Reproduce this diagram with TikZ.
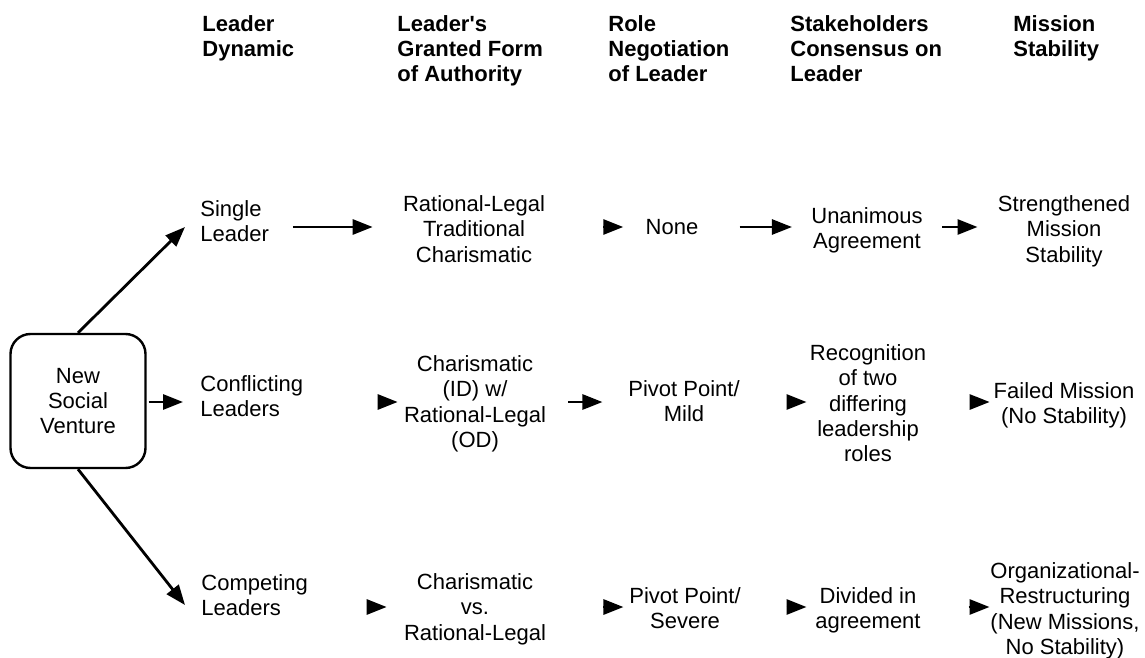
\documentclass[tikz,border=0pt]{standalone}
\usepackage{fontspec}
\setmainfont{Liberation Sans}
\usetikzlibrary{arrows.meta}

\begin{document}
\begin{tikzpicture}[x=0.5pt, y=-0.5pt,
		font=\fontsize{11}{12.7}\selectfont,
		lbl/.style={inner sep=0pt, align=center, anchor=north},
		lft/.style={inner sep=0pt, align=left, anchor=north west},
		hdr/.style={lft, font=\fontsize{11}{12.5}\selectfont\bfseries},
		arr/.style={line width=1.4pt, -{Triangle[length=10pt, width=7.5pt]}},
		trim/.style 2 args={shorten <=#1, shorten >=#2},
		venture/.style={draw, line width=1.2pt, rounded corners=10pt, minimum width=67.5pt,
			minimum height=67pt, align=center, inner sep=0pt}]
	\useasboundingbox (0,0) rectangle (1145,658);

	% column heads
	\node[hdr] (h1) at (202,15) {Leader\\Dynamic};
	\node[hdr] (h2) at (397,15) {Leader\textquotesingle s\\Granted Form\\of Authority};
	\node[hdr] (h3) at (608,15) {Role\\Negotiation\\of Leader};
	\node[hdr] (h4) at (790,15) {Stakeholders\\Consensus on\\Leader};
	\node[hdr] (h5) at (1013,15) {Mission\\Stability};

	\coordinate (row1) at (0,227);
	\coordinate (row2) at (0,402);
	\coordinate (row3) at (0,607);

	\node[venture] (nsv) at (78,401) {New\\Social\\Venture};

	% single leader
	\node[lft] (L1) at (200,200) {Single\\Leader};
	\node[lbl] (A1) at (474,195) {Rational-Legal\\Traditional\\Charismatic};
	\node[lbl] (R1) at (672,219) {None};
	\node[lbl] (S1) at (867,207) {Unanimous\\Agreement};
	\node[lbl] (M1) at (1064,195) {Strengthened\\Mission\\Stability};

	% conflicting leaders
	\node[lft] (L2) at (200,375) {Conflicting\\Leaders};
	\node[lbl] (A2) at (475,355) {Charismatic\\(ID) w/\\Rational-Legal\\(OD)};
	\node[lbl] (R2) at (684,380) {Pivot Point/\\Mild};
	\node[lbl] (S2) at (868,344) {Recognition\\of two\\differing\\leadership\\roles};
	\node[lbl] (M2) at (1064,382) {Failed Mission\\(No Stability)};

	% competing leaders
	\node[lft] (L3) at (201,574) {Competing\\Leaders};
	\node[lbl] (A3) at (475,573) {Charismatic\\vs.\\Rational-Legal};
	\node[lbl] (R3) at (685,587) {Pivot Point/\\Severe};
	\node[lbl] (S3) at (868,587) {Divided in\\agreement};
	\node[lbl] (M3) at (1065,562) {Organizational-\\Restructuring\\(New Missions,\\No Stability)};

	\coordinate (tip1) at (185,227);
	\coordinate (tip3) at (185,605);
	\draw[arr] (nsv.north) -- (tip1);
	\draw[arr] (nsv.south) -- (tip3);
	\draw[arr, trim={1pt}{8.5pt}] (nsv.east |- row2) -- (L2.west |- row2);

	\draw[arr, trim={11.75pt}{15pt}] (L1.east |- row1) -- (A1.west |- row1);
	\draw[arr, trim={29pt}{11pt}] (A1.east |- row1) -- (R1.west |- row1);
	\draw[arr, trim={20.5pt}{9.5pt}] (R1.east |- row1) -- (S1.west |- row1);
	\draw[arr, trim={9.5pt}{10pt}] (S1.east |- row1) -- (M1.west |- row1);

	\draw[arr, trim={38.5pt}{3pt}] (L2.east |- row2) -- (A2.west |- row2);
	\draw[arr, trim={11pt}{12.75pt}] (A2.east |- row2) -- (R2.west |- row2);
	\draw[arr, trim={23.75pt}{1.5pt}] (R2.east |- row2) -- (S2.west |- row2);
	\draw[arr, trim={22pt}{1.85pt}] (S2.east |- row2) -- (M2.west |- row2);

	\draw[arr, trim={29.5pt}{8.5pt}] (L3.east |- row3) -- (A3.west |- row3);
	\draw[arr, trim={28.5pt}{2.75pt}] (A3.east |- row3) -- (R3.west |- row3);
	\draw[arr, trim={22.75pt}{4.25pt}] (R3.east |- row3) -- (S3.west |- row3);
	\draw[arr, trim={23.75pt}{0.25pt}] (S3.east |- row3) -- (M3.west |- row3);
\end{tikzpicture}
\end{document}
